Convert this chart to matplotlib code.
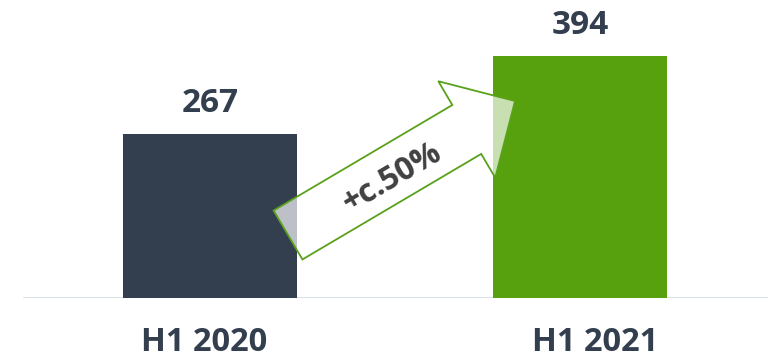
import matplotlib
matplotlib.use("Agg")
import matplotlib.pyplot as plt
import matplotlib.patches as mpatches

# data
periods = ['H1 2020', 'H1 2021']
values = [267, 394]
growth_label = '+c.50%'

bar_colors = ['#333F4F', '#58A10E']
label_color = '#333F4F'
label_nudge_pt = [-4, 11]   # small horizontal nudges of the period labels

plt.rcParams['font.family'] = ['Open Sans', 'DejaVu Sans']

fig = plt.figure(figsize=(7.69, 3.58), dpi=100)
ax = fig.add_axes([0, 60 / 358, 1, 298 / 358])

x = list(range(len(values)))
bars = ax.bar(x, values, width=0.47, color=bar_colors, zorder=2)

ax.set_xlim(-0.5676, 1.5108)
ax.set_ylim(0, 485)
ax.axhline(0, xmin=24 / 769, xmax=766 / 769, color='#d8dfe7', lw=2, zorder=1)

for xi, v in zip(x, values):
    ax.annotate(str(v), (xi, v), xytext=(0, 15.5), textcoords='offset points',
                ha='center', va='baseline', fontsize=24, fontweight='bold',
                color=label_color, annotation_clip=False)

for xi, lab, dx in zip(x, periods, label_nudge_pt):
    ax.annotate(lab, (xi, 0), xytext=(dx, -38), textcoords='offset points',
                ha='center', va='baseline', fontsize=23.5, fontweight='bold',
                color=label_color, annotation_clip=False)

for s in ax.spines.values():
    s.set_visible(False)
ax.set_xticks([])
ax.set_yticks([])

# growth arrow (drawn in inches so it keeps its shape)
arrow = mpatches.FancyArrow(2.88, 1.23, 2.27, 1.34, width=0.568,
                            head_width=1.12, head_length=0.56,
                            length_includes_head=True,
                            facecolor=(1, 1, 1, 0.68), edgecolor='#5aa11a',
                            lw=1.3, transform=fig.dpi_scale_trans,
                            clip_on=False, zorder=3)
ax.add_patch(arrow)

fig.text(3.92, 1.80, growth_label, transform=fig.dpi_scale_trans,
         rotation=30.5, rotation_mode='anchor', ha='center', va='center',
         fontsize=23, fontweight='bold', color='#404040', zorder=4)

fig.savefig('out.png', dpi=100)
